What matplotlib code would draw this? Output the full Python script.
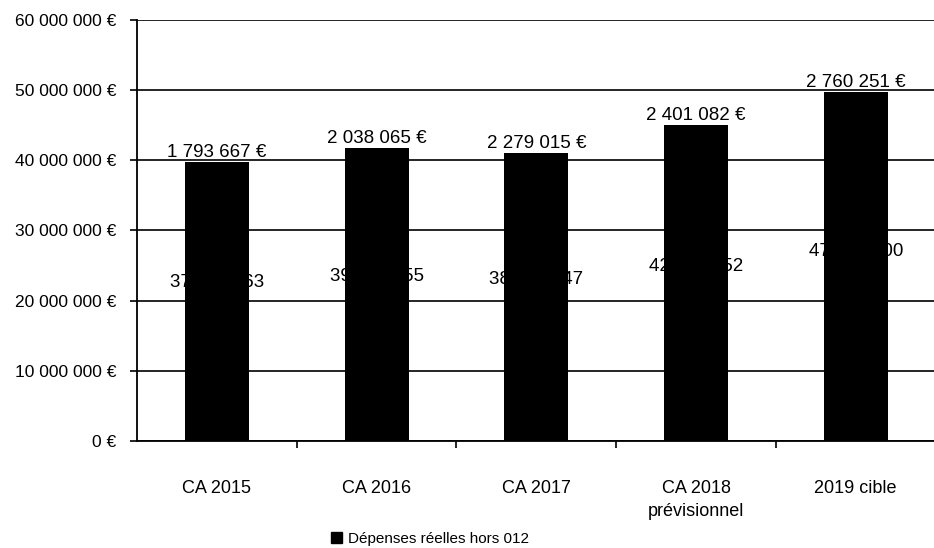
import matplotlib.pyplot as plt
from matplotlib.patches import Patch

# Dépenses réelles : budget hors 012 + part au-dessus (montants en euros)
categories = ['CA 2015', 'CA 2016', 'CA 2017', 'CA 2018\nprévisionnel', '2019 cible']
hors_012 = [37968063, 39724455, 38760347, 42630752, 47000000]
complement = [1793667, 2038065, 2279015, 2401082, 2760251]


def fmt(v, euro=True):
    s = f"{v:,}".replace(",", " ")
    return s + " €" if euro else s


plt.rcParams['font.family'] = ['Liberation Sans', 'DejaVu Sans']

fig = plt.figure(figsize=(9.34, 5.48), dpi=100)
ax = fig.add_axes([0.1467, 0.1953, 0.855, 0.7682])

x = list(range(len(categories)))
ax.bar(x, hors_012, width=0.4, color='black', zorder=3)
ax.bar(x, complement, width=0.4, bottom=hors_012, color='black', zorder=3)

# étiquettes : bas de pile (sans €) et haut de pile (avec €)
for i in x:
    ax.annotate(fmt(hors_012[i], euro=False), (i, hors_012[i] / 2),
                xytext=(0, 25), textcoords='offset pixels',
                ha='center', va='center', fontsize=13.5, color='black', zorder=2)
    ax.annotate(fmt(complement[i]), (i, hors_012[i] + complement[i]),
                xytext=(0, 1), textcoords='offset pixels',
                ha='center', va='bottom', fontsize=13.5, color='black', zorder=4)

ax.set_xlim(-0.5, len(categories) - 0.5)
ax.set_ylim(0, 60000000)
ax.set_yticks(range(0, 60000001, 10000000))
ax.set_yticklabels([fmt(v) for v in range(0, 60000001, 10000000)], fontsize=12.5)
ax.set_xticks(x)
ax.set_xticklabels(categories, fontsize=13, linespacing=1.45)
ax.set_xticks([i + 0.5 for i in x[:-1]], minor=True)
ax.tick_params(axis='x', which='major', length=0, pad=28)
ax.tick_params(axis='x', which='minor', length=5, width=1.2, color='black')
ax.tick_params(axis='y', length=5, width=1.2, pad=10)

ax.grid(axis='y', color='black', linewidth=1.2, zorder=1)
ax.set_axisbelow(True)
for side in ['top', 'right']:
    ax.spines[side].set_visible(False)
for side in ['left', 'bottom']:
    ax.spines[side].set_color('black')
    ax.spines[side].set_linewidth(1.3)

fig.legend(handles=[Patch(color='black', label='Dépenses réelles hors 012')],
           loc='center', bbox_to_anchor=(430 / 934, 1 - 539 / 548),
           frameon=False, fontsize=11, handlelength=0.7, handleheight=0.7,
           handletextpad=0.4)

fig.savefig('out.png', dpi=100)
